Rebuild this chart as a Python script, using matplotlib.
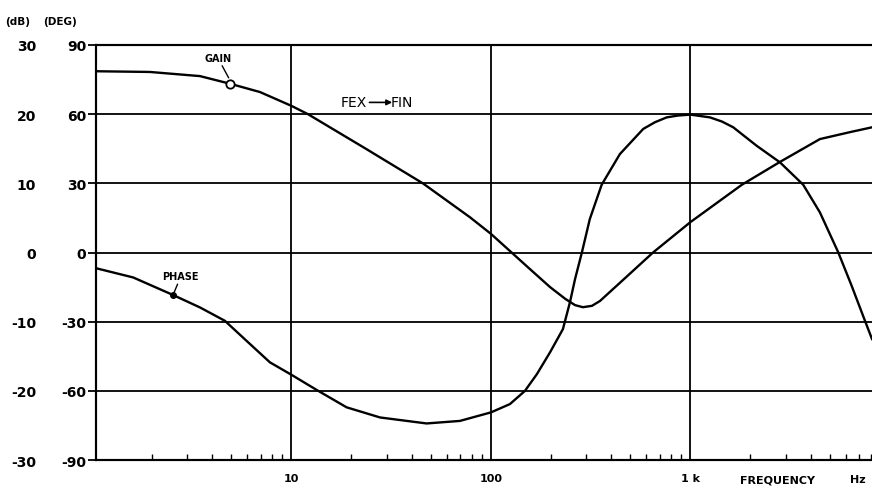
import numpy as np
import matplotlib
matplotlib.use("Agg")
import matplotlib.pyplot as plt
from matplotlib.ticker import FixedLocator, NullFormatter

# --- data ---
gain_freq = [1.06, 1.95, 3.48, 4.92, 6.95, 10, 12.1, 23.3, 45.6, 78.5, 100, 127,
             157, 198, 236, 264, 289, 321, 352, 470, 649, 1000, 1811, 2811,
             4457, 6300, 8130]
gain_db = [26.2, 26.1, 25.5, 24.4, 23.2, 21.2, 20.0, 15.1, 10.0, 5.1, 2.7, 0.0,
           -2.4, -5.0, -6.7, -7.6, -7.9, -7.7, -7.0, -3.7, 0.0, 4.4, 9.8, 13.1,
           16.4, 17.4, 18.1]

phase_freq = [1.06, 1.61, 2.55, 3.48, 4.64, 5.96, 7.8, 10, 13.4, 18.9, 27.8,
              47.6, 69.9, 100, 124.5, 148, 170, 198, 229.5, 249, 264, 286,
              313, 359, 443, 580, 664, 760, 865, 1000, 1253, 1439, 1639, 2147,
              2811, 3675, 4457, 5506, 6427, 7497, 8130]
phase_deg = [-6.9, -10.8, -18.4, -23.8, -29.6, -38.3, -47.6, -53.0, -59.6, -67.1,
             -71.5, -74.1, -73.0, -69.3, -65.7, -60.0, -52.7, -43.2, -33.2, -21.5,
             -11.5, 0.2, 14.5, 29.4, 42.7, 53.6, 56.5, 58.6, 59.4, 59.8, 58.6,
             56.8, 54.3, 46.3, 39.1, 29.4, 17.4, 0.1, -14.4, -29.6, -37.5]

db_ticks = [-30, -20, -10, 0, 10, 20, 30]
deg_ticks = [-90, -60, -30, 0, 30, 60, 90]
freq_ticks = [10, 100, 1000]
freq_labels = ["10", "100", "1 k"]

fig = plt.figure(figsize=(8.72, 4.89), dpi=100)
ax = fig.add_axes([0.1098, 0.057, 0.8902, 0.849])
ax.set_xscale("log")
ax.set_xlim(1.045, 8130)
ax.set_ylim(-30, 30)

# dB axis (outer column of labels)
ax.set_yticks(db_ticks)
ax.set_yticklabels([str(t) for t in db_ticks])
ax.tick_params(axis="y", length=0, pad=43, labelsize=10)
for lab in ax.get_yticklabels():
    lab.set_fontweight("bold")

ax.xaxis.set_major_locator(FixedLocator(freq_ticks))
ax.set_xticklabels(freq_labels)
minors = [m * d for d in [1, 10, 100, 1000] for m in range(2, 10)]
ax.xaxis.set_minor_locator(FixedLocator(minors))
ax.xaxis.set_minor_formatter(NullFormatter())
ax.tick_params(axis="x", which="major", length=0, pad=9, labelsize=8)
ax.tick_params(axis="x", which="minor", direction="in", length=4, width=1)
for lab in ax.get_xticklabels():
    lab.set_fontweight("bold")
ax.grid(True, axis="x", which="major", color="black", linewidth=1.3)

# degree axis, also on the left
ax2 = ax.twinx()
ax2.set_ylim(-90, 90)
ax2.set_yticks(deg_ticks)
ax2.set_yticklabels([str(t) for t in deg_ticks])
ax2.yaxis.tick_left()
ax2.tick_params(axis="y", length=6, width=1.3, pad=1, labelsize=10)
for lab in ax2.get_yticklabels():
    lab.set_fontweight("bold")
ax2.grid(True, axis="y", color="black", linewidth=1.3)

for a in (ax, ax2):
    a.spines["right"].set_visible(False)
    for s in ("top", "bottom", "left"):
        a.spines[s].set_linewidth(1.5)

# curves
ax.plot(gain_freq, gain_db, color="black", linewidth=1.7, zorder=3)
ax2.plot(phase_freq, phase_deg, color="black", linewidth=1.7, zorder=3)

# labels on curves
ax.plot([4.92], [24.4], marker="o", markersize=6, markerfacecolor="white",
        markeredgecolor="black", markeredgewidth=1.3, zorder=4)
ax.annotate("GAIN", xy=(4.92, 24.9), xytext=(4.28, 27.4), ha="center",
            va="bottom", fontsize=7, fontweight="bold",
            arrowprops=dict(arrowstyle="-", color="black", lw=1,
                            shrinkA=0, shrinkB=2))
ax2.plot([2.55], [-18.4], marker="o", markersize=4, color="black", zorder=4)
ax2.annotate("PHASE", xy=(2.55, -18.4), xytext=(2.79, -12.5), ha="center",
             va="bottom", fontsize=7, fontweight="bold",
             arrowprops=dict(arrowstyle="-", color="black", lw=1,
                             shrinkA=0, shrinkB=2))

ax.text(24.0, 21.7, "FEX", ha="right", va="center", fontsize=10)
ax.text(31.5, 21.7, "FIN", ha="left", va="center", fontsize=10)
ax.annotate("", xy=(32.0, 21.7), xytext=(24.6, 21.7),
            arrowprops=dict(arrowstyle="-|>", color="black", lw=1.2,
                            mutation_scale=8, shrinkA=0, shrinkB=0))

# axis headers / footers
fig.text(0.006, 0.955, "(dB)", fontsize=7.5, fontweight="bold", va="center")
fig.text(0.05, 0.955, "(DEG)", fontsize=7.5, fontweight="bold", va="center")
fig.text(0.849, 0.018, "FREQUENCY", fontsize=8, fontweight="bold", va="center")
fig.text(0.975, 0.018, "Hz", fontsize=8, fontweight="bold", va="center")

fig.savefig("out.png", dpi=100)
